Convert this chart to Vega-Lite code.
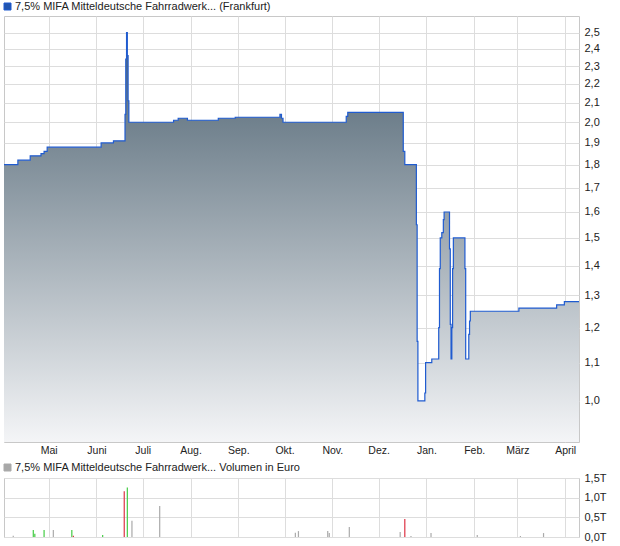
{
  "$schema": "https://vega.github.io/schema/vega-lite/v6.json",
  "background": "white",
  "padding": {"left": 1, "top": 0, "right": 0, "bottom": 0},
  "config": {
    "view": {"stroke": "#c8c8c8"},
    "font": "Liberation Sans",
    "axis": {
      "labelFont": "Liberation Sans",
      "labelFontSize": 11,
      "labelColor": "#222222",
      "gridColor": "#dddddd",
      "ticks": false,
      "domain": false,
      "title": null,
      "labelFlush": false,
      "labelOverlap": false
    }
  },
  "resolve": {"scale": {"color": "independent"}, "legend": {"color": "independent"}},
  "spacing": 36,
  "bounds": "flush",
  "vconcat": [
    {
      "width": 575,
      "height": 426,
      "data": {
        "values": [
          {"date": "2013-04-02", "price": 1.80},
          {"date": "2013-04-11", "price": 1.82},
          {"date": "2013-04-19", "price": 1.84},
          {"date": "2013-04-26", "price": 1.85},
          {"date": "2013-04-28", "price": 1.86},
          {"date": "2013-04-30", "price": 1.88},
          {"date": "2013-06-04", "price": 1.90},
          {"date": "2013-06-12", "price": 1.91},
          {"date": "2013-06-19T12:00:00Z", "price": 2.04},
          {"date": "2013-06-20", "price": 2.34},
          {"date": "2013-06-20T12:00:00Z", "price": 2.50},
          {"date": "2013-06-21", "price": 2.36},
          {"date": "2013-06-21T12:00:00Z", "price": 2.11},
          {"date": "2013-06-22", "price": 2.00},
          {"date": "2013-07-21", "price": 2.01},
          {"date": "2013-07-24", "price": 2.02},
          {"date": "2013-07-30", "price": 2.01},
          {"date": "2013-08-19", "price": 2.02},
          {"date": "2013-08-30", "price": 2.025},
          {"date": "2013-09-28", "price": 2.04},
          {"date": "2013-09-29", "price": 2.02},
          {"date": "2013-09-30", "price": 2.00},
          {"date": "2013-11-10", "price": 2.03},
          {"date": "2013-11-11", "price": 2.05},
          {"date": "2013-12-17", "price": 1.86},
          {"date": "2013-12-18", "price": 1.80},
          {"date": "2013-12-25T12:00:00Z", "price": 1.55},
          {"date": "2013-12-26", "price": 1.16},
          {"date": "2013-12-26T12:00:00Z", "price": 1.00},
          {"date": "2013-12-31", "price": 1.02},
          {"date": "2013-12-31T12:00:00Z", "price": 1.10},
          {"date": "2014-01-04T12:00:00Z", "price": 1.11},
          {"date": "2014-01-09", "price": 1.20},
          {"date": "2014-01-09T12:00:00Z", "price": 1.39},
          {"date": "2014-01-10", "price": 1.50},
          {"date": "2014-01-11", "price": 1.52},
          {"date": "2014-01-12", "price": 1.57},
          {"date": "2014-01-12T12:00:00Z", "price": 1.60},
          {"date": "2014-01-16", "price": 1.46},
          {"date": "2014-01-16T12:00:00Z", "price": 1.21},
          {"date": "2014-01-17", "price": 1.11},
          {"date": "2014-01-17T12:00:00Z", "price": 1.20},
          {"date": "2014-01-18", "price": 1.39},
          {"date": "2014-01-18T12:00:00Z", "price": 1.50},
          {"date": "2014-01-26", "price": 1.39},
          {"date": "2014-01-26T12:00:00Z", "price": 1.11},
          {"date": "2014-01-28T12:00:00Z", "price": 1.18},
          {"date": "2014-01-29", "price": 1.22},
          {"date": "2014-01-29T12:00:00Z", "price": 1.25},
          {"date": "2014-03-02", "price": 1.26},
          {"date": "2014-03-26T12:00:00Z", "price": 1.27},
          {"date": "2014-03-31T12:00:00Z", "price": 1.28},
          {"date": "2014-04-10", "price": 1.28}
        ]
      },
      "encoding": {
        "x": {
          "field": "date",
          "type": "temporal",
          "scale": {
            "type": "utc",
            "domain": [
              {"year": 2013, "month": 4, "date": 2, "utc": true},
              {"year": 2014, "month": 4, "date": 10, "utc": true}
            ]
          },
          "axis": {
            "orient": "bottom",
            "grid": true,
            "tickCount": {"interval": "month", "step": 1},
            "labelExpr": "['Jan.','Feb.','März','April','Mai','Juni','Juli','Aug.','Sep.','Okt.','Nov.','Dez.'][utcmonth(datum.value)]",
            "labelFontSize": 10.5,
            "labelPadding": 3
          }
        },
        "y": {
          "field": "price",
          "type": "quantitative",
          "scale": {"type": "log", "domain": [0.903, 2.605], "nice": false},
          "axis": {
            "orient": "right",
            "grid": true,
            "values": [1.0, 1.1, 1.2, 1.3, 1.4, 1.5, 1.6, 1.7, 1.8, 1.9, 2.0, 2.1, 2.2, 2.3, 2.4, 2.5],
            "labelExpr": "replace(format(datum.value, '.1f'), '.', ',')",
            "labelPadding": 5
          }
        }
      },
      "layer": [
        {
          "mark": {
            "type": "area",
            "interpolate": "step-after",
            "color": {
              "gradient": "linear",
              "x1": 0, "y1": 0, "x2": 0, "y2": 1,
              "stops": [
                {"offset": 0, "color": "#4c6170"},
                {"offset": 1, "color": "#f4f5f7"}
              ]
            }
          },
          "encoding": {
            "y2": {"datum": 0.903}
          }
        },
        {
          "mark": {"type": "line", "interpolate": "step-after", "strokeWidth": 1.2},
          "encoding": {
            "color": {
              "datum": "7,5% MIFA Mitteldeutsche Fahrradwerk... (Frankfurt)",
              "scale": {"range": ["#1f5bd0"]},
              "legend": {
                "orient": "none",
                "legendX": -2,
                "legendY": -15,
                "title": null,
                "symbolType": "square",
                "symbolSize": 49,
                "symbolStrokeWidth": 1,
                "labelFont": "Liberation Sans",
                "labelFontSize": 11,
                "labelColor": "#222222",
                "labelLimit": 600,
                "labelOffset": 2,
                "encode": {
                  "symbols": {
                    "update": {
                      "fill": {"value": "#2155b0"},
                      "stroke": {"value": "#0f2d6b"},
                      "opacity": {"value": 1}
                    }
                  }
                }
              }
            }
          }
        }
      ]
    },
    {
      "width": 575,
      "height": 59,
      "data": {
        "values": [
          {"date": "2013-04-08", "volume": 30, "trend": "neutral"},
          {"date": "2013-04-21", "volume": 180, "trend": "up"},
          {"date": "2013-04-22", "volume": 80, "trend": "up"},
          {"date": "2013-04-28", "volume": 180, "trend": "up"},
          {"date": "2013-05-04", "volume": 180, "trend": "neutral"},
          {"date": "2013-05-16", "volume": 180, "trend": "up"},
          {"date": "2013-05-17", "volume": 30, "trend": "down"},
          {"date": "2013-06-05", "volume": 50, "trend": "up"},
          {"date": "2013-06-19", "volume": 1160, "trend": "down"},
          {"date": "2013-06-21", "volume": 1260, "trend": "up"},
          {"date": "2013-06-24", "volume": 410, "trend": "neutral"},
          {"date": "2013-07-12", "volume": 790, "trend": "neutral"},
          {"date": "2013-10-08", "volume": 110, "trend": "neutral"},
          {"date": "2013-10-10", "volume": 150, "trend": "neutral"},
          {"date": "2013-10-29", "volume": 150, "trend": "neutral"},
          {"date": "2013-10-30", "volume": 100, "trend": "neutral"},
          {"date": "2013-11-12", "volume": 255, "trend": "neutral"},
          {"date": "2013-12-15", "volume": 130, "trend": "neutral"},
          {"date": "2013-12-18", "volume": 460, "trend": "down"},
          {"date": "2013-12-22", "volume": 25, "trend": "neutral"},
          {"date": "2014-01-04", "volume": 100, "trend": "neutral"},
          {"date": "2014-02-03", "volume": 50, "trend": "neutral"},
          {"date": "2014-03-03", "volume": 25, "trend": "neutral"},
          {"date": "2014-03-18", "volume": 100, "trend": "neutral"}
        ]
      },
      "mark": {"type": "rule", "strokeWidth": 1.2},
      "encoding": {
        "x": {
          "field": "date",
          "type": "temporal",
          "scale": {
            "type": "utc",
            "domain": [
              {"year": 2013, "month": 4, "date": 2, "utc": true},
              {"year": 2014, "month": 4, "date": 10, "utc": true}
            ]
          },
          "axis": {
            "orient": "bottom",
            "grid": true,
            "labels": false,
            "tickCount": {"interval": "month", "step": 1}
          }
        },
        "y": {
          "field": "volume",
          "type": "quantitative",
          "scale": {"domain": [0, 1500], "nice": false},
          "axis": {
            "orient": "right",
            "grid": true,
            "values": [0, 500, 1000, 1500],
            "labelExpr": "replace(format(datum.value / 1000, '.1f'), '.', ',') + 'T'",
            "labelPadding": 5
          }
        },
        "y2": {"datum": 0},
        "color": {
          "field": "trend",
          "type": "nominal",
          "scale": {"domain": ["neutral", "up", "down"], "range": ["#aaaaaa", "#44cc44", "#dd3344"]},
          "legend": {
            "values": ["neutral"],
            "labelExpr": "'7,5% MIFA Mitteldeutsche Fahrradwerk... Volumen in Euro'",
            "orient": "none",
            "legendX": -2,
            "legendY": -16,
            "title": null,
            "symbolType": "square",
            "symbolSize": 49,
            "symbolStrokeWidth": 1,
            "labelFont": "Liberation Sans",
            "labelFontSize": 11,
            "labelColor": "#222222",
            "labelLimit": 600,
            "labelOffset": 2,
            "encode": {
              "symbols": {
                "update": {
                  "fill": {"value": "#a8a8a8"},
                  "stroke": {"value": "#333333"},
                  "opacity": {"value": 1}
                }
              }
            }
          }
        }
      }
    }
  ]
}
